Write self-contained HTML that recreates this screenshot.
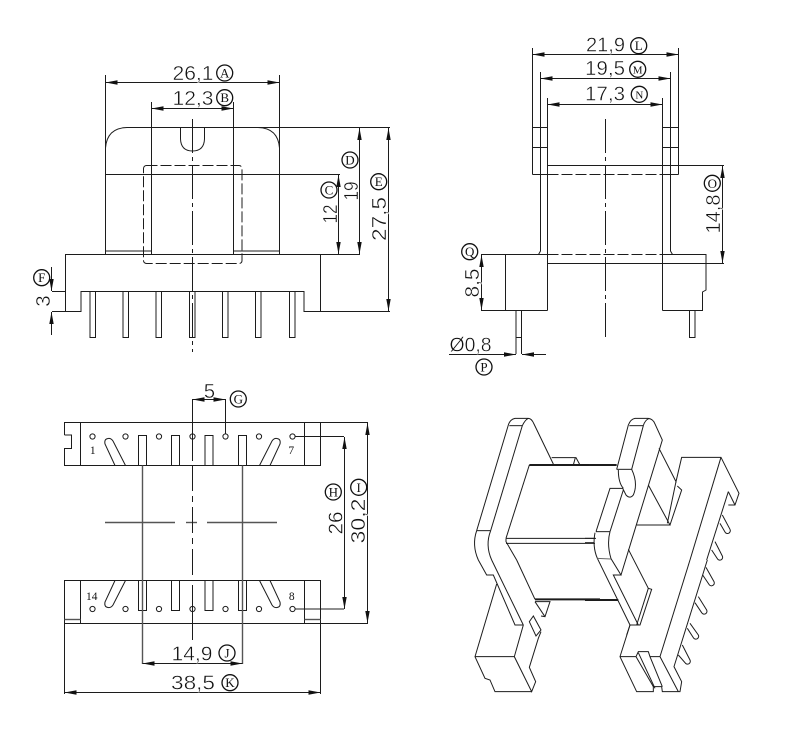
<!DOCTYPE html>
<html><head><meta charset="utf-8">
<style>
html,body{margin:0;padding:0;background:#fff;width:800px;height:738px;overflow:hidden}
svg{display:block}
.l line,.l path,.l polyline,.l rect,.l circle,.l polygon{fill:none;stroke:#1c1c1c;stroke-width:1;vector-effect:non-scaling-stroke}
.l circle.o{stroke-width:1.3;stroke:#111}
.ar{marker-start:url(#a);marker-end:url(#a)}
.ae{marker-end:url(#a)}
.t{font-family:"Liberation Sans",sans-serif;font-size:20.5px;fill:#111;stroke:#fff;stroke-width:.45;text-anchor:middle}
.c{font-family:"Liberation Serif",serif;font-size:13px;fill:#111;text-anchor:middle}
.n{font-family:"Liberation Serif",serif;font-size:11.5px;fill:#111;text-anchor:middle}
.l .d{stroke-dasharray:11 3}
.l .dc{stroke-dasharray:34 4 4 4}
.l .g{stroke:#555;stroke-width:1.4}
</style></head><body>
<svg width="800" height="738" viewBox="0 0 800 738" xmlns="http://www.w3.org/2000/svg">
<defs>
<marker id="a" markerUnits="userSpaceOnUse" markerWidth="13" markerHeight="6" refX="12" refY="3" orient="auto-start-reverse" viewBox="0 0 13 6"><path d="M12,3 L0,0.8 L0,5.2 Z" fill="#111"/></marker>
</defs>

<!-- TOP LEFT -->
<g class="l">
<path d="M105.5,148 Q107,128 127,127.5 L390,127.5"/>
<path d="M258,127.5 Q278,128 279.5,148"/>
<line x1="105.5" y1="75" x2="105.5" y2="254"/>
<line x1="279.5" y1="75" x2="279.5" y2="254"/>
<line x1="151.5" y1="102" x2="151.5" y2="254"/>
<line x1="233.5" y1="102" x2="233.5" y2="254"/>
<path d="M180.5,127.5 L180.5,139 Q181,151 192.5,151 Q204,151 204.5,139 L204.5,127.5"/>
<line x1="105.5" y1="174.5" x2="340" y2="174.5"/>
<line x1="105.5" y1="251" x2="151.5" y2="251"/>
<line x1="233.5" y1="251" x2="279.5" y2="251"/>
<path d="M360,254.5 L65.5,254.5 L65.5,311.5 L81,311.5 L81,291.5 L304,291.5 L304,311.5 L320.5,311.5 L320.5,254.5"/>
<line x1="320.5" y1="311.5" x2="390" y2="311.5"/>
<line x1="52" y1="291.5" x2="66" y2="291.5"/>
<line x1="52" y1="311.5" x2="66" y2="311.5"/>
<rect x="90" y="291.5" width="5.5" height="46"/>
<rect x="123" y="291.5" width="5.5" height="46"/>
<rect x="156" y="291.5" width="5.5" height="46"/>
<rect x="189.5" y="291.5" width="5.5" height="46"/>
<rect x="222.5" y="291.5" width="5.5" height="46"/>
<rect x="255.5" y="291.5" width="5.5" height="46"/>
<rect x="289.5" y="291.5" width="5.5" height="46"/>
<line class="dc" x1="192.5" y1="119" x2="192.5" y2="352"/>
<rect class="d" x="143.5" y="165.5" width="98.5" height="98" rx="3"/>
<line class="ar" x1="105.5" y1="82.5" x2="279.5" y2="82.5"/>
<line class="ar" x1="151.5" y1="108.5" x2="233.5" y2="108.5"/>
<line class="ar" x1="338.5" y1="175" x2="338.5" y2="254"/>
<line class="ar" x1="359.5" y1="128" x2="359.5" y2="254"/>
<line class="ar" x1="388.5" y1="128" x2="388.5" y2="311"/>
<line class="ae" x1="51.5" y1="267" x2="51.5" y2="291"/>
<line class="ae" x1="51.5" y1="335" x2="51.5" y2="312"/>
<circle class="o" cx="224.7" cy="73" r="8"/><circle class="o" cx="224.7" cy="97.7" r="8"/>
<circle class="o" cx="329" cy="190" r="8"/><circle class="o" cx="350" cy="160" r="8"/>
<circle class="o" cx="378.7" cy="181.7" r="8"/><circle class="o" cx="41.7" cy="277.7" r="8"/>
</g>
<text class="t" x="193" y="80" textLength="41" lengthAdjust="spacingAndGlyphs">26,1</text>
<text class="t" x="193" y="105" textLength="41" lengthAdjust="spacingAndGlyphs">12,3</text>
<text class="t" transform="translate(337,214) rotate(-90)" textLength="19" lengthAdjust="spacingAndGlyphs">12</text>
<text class="t" transform="translate(358,191) rotate(-90)" textLength="19" lengthAdjust="spacingAndGlyphs">19</text>
<text class="t" transform="translate(386,219) rotate(-90)" textLength="44" lengthAdjust="spacingAndGlyphs">27,5</text>
<text class="t" transform="translate(50,301) rotate(-90)">3</text>
<text class="c" x="224.7" y="77.5">A</text><text class="c" x="224.7" y="102.2">B</text>
<text class="c" x="329" y="194.5">C</text><text class="c" x="350" y="164.5">D</text>
<text class="c" x="378.7" y="186.2">E</text><text class="c" x="41.7" y="282.2">F</text>

<!-- TOP RIGHT -->
<g class="l">
<line x1="532.5" y1="48" x2="532.5" y2="174.5"/>
<line x1="678.5" y1="48" x2="678.5" y2="174.5"/>
<path d="M540.5,72 L540.5,251 L538.5,254.5"/>
<path d="M670.5,72 L670.5,251 L672.5,254.5"/>
<line x1="547.5" y1="98" x2="547.5" y2="310.5"/>
<line x1="662.5" y1="98" x2="662.5" y2="310.5"/>
<line x1="532.5" y1="127.5" x2="547.5" y2="127.5"/>
<line x1="662.5" y1="127.5" x2="678.5" y2="127.5"/>
<line x1="532.5" y1="147.5" x2="547.5" y2="147.5"/>
<line x1="662.5" y1="147.5" x2="678.5" y2="147.5"/>
<line x1="547.5" y1="165.5" x2="724" y2="165.5"/>
<line x1="532.5" y1="174.5" x2="547.5" y2="174.5"/>
<line x1="662.5" y1="174.5" x2="678.5" y2="174.5"/>
<line class="d" x1="547.5" y1="174.5" x2="662.5" y2="174.5"/>
<line class="d" x1="547.5" y1="254.5" x2="662.5" y2="254.5"/>
<line x1="481" y1="254.5" x2="547.5" y2="254.5"/>
<line x1="481" y1="310.5" x2="547.5" y2="310.5"/>
<line x1="505.5" y1="254.5" x2="505.5" y2="310.5"/>
<line x1="547.5" y1="263.5" x2="724" y2="263.5"/>
<path d="M662.5,254.5 L706,254.5 L706,290 L702.5,292 L702.5,310.5 L662.5,310.5"/>
<rect x="516" y="310.5" width="5.5" height="27"/>
<rect x="689.5" y="310.5" width="5.5" height="27"/>
<line x1="516" y1="337" x2="516" y2="354"/>
<line x1="521.5" y1="337" x2="521.5" y2="354"/>
<line class="dc" x1="605.5" y1="119" x2="605.5" y2="340"/>
<line class="ar" x1="532.5" y1="54.5" x2="678.5" y2="54.5"/>
<line class="ar" x1="540.5" y1="78.5" x2="670.5" y2="78.5"/>
<line class="ar" x1="547.5" y1="104.5" x2="662.5" y2="104.5"/>
<line class="ar" x1="722.5" y1="166" x2="722.5" y2="263"/>
<line class="ar" x1="481.5" y1="255" x2="481.5" y2="310"/>
<line class="ae" x1="449" y1="354.5" x2="516" y2="354.5"/>
<line class="ae" x1="546" y1="354.5" x2="522" y2="354.5"/>
<circle class="o" cx="638.7" cy="45.7" r="8"/><circle class="o" cx="637.7" cy="69.3" r="8"/>
<circle class="o" cx="639.3" cy="94.3" r="8"/><circle class="o" cx="712.3" cy="183.3" r="8"/>
<circle class="o" cx="469.7" cy="251.7" r="8"/><circle class="o" cx="484" cy="367" r="8"/>
</g>
<text class="t" x="605.5" y="51.5" textLength="39" lengthAdjust="spacingAndGlyphs">21,9</text>
<text class="t" x="605" y="75" textLength="40" lengthAdjust="spacingAndGlyphs">19,5</text>
<text class="t" x="605" y="100.5" textLength="40" lengthAdjust="spacingAndGlyphs">17,3</text>
<text class="t" transform="translate(720,214) rotate(-90)" textLength="39" lengthAdjust="spacingAndGlyphs">14,8</text>
<text class="t" transform="translate(479,283) rotate(-90)" textLength="29" lengthAdjust="spacingAndGlyphs">8,5</text>
<text class="t" x="470.5" y="351.5" textLength="42" lengthAdjust="spacingAndGlyphs">Ø0,8</text>
<text class="c" x="638.7" y="50.2">L</text><text class="c" x="637.7" y="73.3" style="font-size:11px">M</text>
<text class="c" x="639.3" y="98.3" style="font-size:11px">N</text><text class="c" x="712.3" y="187.8">O</text>
<text class="c" x="469.7" y="256.2">Q</text><text class="c" x="484" y="371.5">P</text>

<!-- BOTTOM LEFT -->
<g class="l">
<path d="M64.5,435 L64.5,422.5 L368,422.5"/>
<path d="M64.5,435 L71.5,435 L71.5,448.5 L64.5,448.5 L64.5,465.5 L320.5,465.5 L320.5,422.5"/>
<line x1="80.5" y1="422.5" x2="80.5" y2="465.5"/>
<line x1="304.5" y1="422.5" x2="304.5" y2="465.5"/>
<rect x="64.5" y="580.5" width="256" height="43"/>
<line x1="320" y1="623.5" x2="368" y2="623.5"/>
<line x1="80.5" y1="580.5" x2="80.5" y2="623"/>
<line x1="304.5" y1="580.5" x2="304.5" y2="623"/>
<line x1="64.5" y1="619.5" x2="80.5" y2="619.5" class="g"/>
<line x1="304.5" y1="619.5" x2="320.5" y2="619.5" class="g"/>
<circle cx="92.5" cy="436.5" r="2.6"/><circle cx="125.5" cy="436.5" r="2.6"/><circle cx="159" cy="436.5" r="2.6"/><circle cx="192.5" cy="436.5" r="2.6"/><circle cx="225.5" cy="436.5" r="2.6"/><circle cx="259" cy="436.5" r="2.6"/><circle cx="292.5" cy="436.5" r="2.6"/>
<circle cx="92.5" cy="609" r="2.6"/><circle cx="125.5" cy="609" r="2.6"/><circle cx="159" cy="609" r="2.6"/><circle cx="192.5" cy="609" r="2.6"/><circle cx="225.5" cy="609" r="2.6"/><circle cx="259" cy="609" r="2.6"/><circle cx="292.5" cy="609" r="2.6"/>
<rect x="138.5" y="435.5" width="8" height="30"/><rect x="171.5" y="435.5" width="8" height="30"/><rect x="205" y="435.5" width="8" height="30"/><rect x="238.5" y="435.5" width="8" height="30"/>
<rect x="138.5" y="580.5" width="8" height="30"/><rect x="171.5" y="580.5" width="8" height="30"/><rect x="205" y="580.5" width="8" height="30"/><rect x="238.5" y="580.5" width="8" height="30"/>
<path d="M115,465.5 L105,444 Q104,439 108,438.5 Q111,438 113,441 L125.5,465.5"/>
<path d="M270,465.5 L280,444 Q281,439 277,438.5 Q274,438 272,441 L259.5,465.5"/>
<path d="M115,580.5 L105,602 Q104,607 108,607.5 Q111,608 113,605 L125.5,580.5"/>
<path d="M270,580.5 L280,602 Q281,607 277,607.5 Q274,608 272,605 L259.5,580.5"/>
<line class="g" x1="142.5" y1="465.5" x2="142.5" y2="664"/>
<line class="g" x1="242.5" y1="465.5" x2="242.5" y2="664"/>
<line class="g" x1="105" y1="522.5" x2="175" y2="522.5"/>
<line class="g" x1="186" y1="522.5" x2="197" y2="522.5"/>
<line class="g" x1="207" y1="522.5" x2="277" y2="522.5"/>
<line x1="192.5" y1="399" x2="192.5" y2="461"/>
<line class="d" style="stroke-dasharray:26 5 6 5" x1="192.5" y1="465" x2="192.5" y2="580"/>
<line x1="192.5" y1="585" x2="192.5" y2="640"/>
<line x1="225.5" y1="399" x2="225.5" y2="434"/>
<line x1="295" y1="436.5" x2="344" y2="436.5"/>
<line x1="295" y1="609" x2="344" y2="609"/>
<line x1="64.5" y1="623" x2="64.5" y2="694"/>
<line x1="320.5" y1="623" x2="320.5" y2="694"/>
<line class="ar" x1="192.5" y1="399.5" x2="225.5" y2="399.5"/>
<line class="ar" x1="344.5" y1="437" x2="344.5" y2="609"/>
<line class="ar" x1="367.5" y1="423" x2="367.5" y2="623"/>
<line class="ar" x1="142.5" y1="663.5" x2="242.5" y2="663.5"/>
<line class="ar" x1="64.5" y1="692.5" x2="320.5" y2="692.5"/>
<circle class="o" cx="238.3" cy="399" r="8"/><circle class="o" cx="333.3" cy="492" r="8"/><circle class="o" cx="358.7" cy="487.3" r="8"/>
<circle class="o" cx="227" cy="653" r="8"/><circle class="o" cx="230" cy="682.7" r="8"/>
</g>
<text class="t" x="209.5" y="398">5</text>
<text class="t" transform="translate(342.5,523) rotate(-90)" textLength="23" lengthAdjust="spacingAndGlyphs">26</text>
<text class="t" transform="translate(365,521) rotate(-90)" textLength="45" lengthAdjust="spacingAndGlyphs">30,2</text>
<text class="t" x="192" y="660.5" textLength="41" lengthAdjust="spacingAndGlyphs">14,9</text>
<text class="t" x="193" y="689.5" textLength="44" lengthAdjust="spacingAndGlyphs">38,5</text>
<text class="c" x="238.3" y="403.5">G</text><text class="c" x="333.3" y="496.5">H</text><text class="c" x="358.7" y="491.8">I</text>
<text class="c" x="227" y="657.5">J</text><text class="c" x="230" y="687.2">K</text>
<text class="n" x="92.7" y="454">1</text><text class="n" x="291.3" y="454">7</text>
<text class="n" x="91.7" y="600">14</text><text class="n" x="291.7" y="600">8</text>

<!-- 3D VIEW -->
<g class="l" transform="translate(470,410) scale(0.3333)">
<path d="M20,362 L115,45 Q120,28 135,25 L175,25 Q185,25 192,42 L250,162"/>
<line x1="118" y1="47" x2="157" y2="47"/>
<path d="M157,47 Q165,30 175,25"/>
<line x1="157" y1="47" x2="62" y2="362"/>
<line x1="20" y1="362" x2="62" y2="362"/>
<path d="M20,362 Q5,405 25,450"/>
<path d="M62,362 Q45,405 65,450"/>
<line x1="178" y1="165" x2="360" y2="165" style="stroke-width:2"/>
<line x1="178" y1="165" x2="108" y2="385"/>
<line x1="108" y1="385" x2="378" y2="385"/>
<line x1="108" y1="400" x2="375" y2="400"/>
<path d="M108,385 L108,395 L140,450"/>
<path d="M245,143 L318,143 L330,165"/>
<line x1="316" y1="143" x2="310" y2="165"/>
</g>
<g class="l" transform="translate(590,410) scale(0.3333)">
<line x1="0" y1="165" x2="80" y2="165" style="stroke-width:2"/>
<path d="M80,178 L115,45 Q122,27 135,25 L175,25 Q190,27 195,42 L217,90 L93,495"/>
<line x1="118" y1="47" x2="160" y2="47"/>
<path d="M160,47 Q165,30 178,25"/>
<line x1="160" y1="47" x2="125" y2="178"/>
<line x1="80" y1="178" x2="125" y2="178"/>
<path d="M85,180 Q85,218 100,235"/>
<path d="M125,178 Q145,220 130,255 Q120,268 108,255 L98,235"/>
<path d="M98,235 L60,235 L18,365"/>
<line x1="100" y1="240" x2="60" y2="365"/>
<line x1="18" y1="365" x2="60" y2="365"/>
<path d="M207,115 L258,215 L275,142 L393,142 L447,250 L435,285 L415,285"/>
<line x1="258" y1="215" x2="232" y2="340"/>
<path d="M175,225 L240,345 L140,345"/>
<path d="M262,228 L275,240 L240,345"/>
<path d="M415,245 L435,285"/>
<line x1="415" y1="245" x2="350" y2="450"/>
<line x1="393" y1="142" x2="300" y2="450"/>
<path d="M397,315 L420,358 A8.5,8.5 0 0 1 405,366 L390,340"/>
<path d="M375,395 L397,438 A8.5,8.5 0 0 1 382,446 L365,420"/>
</g>
<g class="l" transform="translate(585,520) scale(0.3333)">
<line x1="0" y1="55" x2="30" y2="55"/>
<line x1="0" y1="68" x2="28" y2="68"/>
<path d="M30,38 Q22,80 37,115 L135,315"/>
<path d="M75,35 Q65,72 78,116 L108,165 L85,165 L160,315"/>
<line x1="37" y1="115" x2="78" y2="117" style="stroke:#666"/>
<path d="M130,88 L190,205 L200,208 L165,315 L135,315 L125,345"/>
<line x1="190" y1="205" x2="155" y2="315"/>
<line x1="0" y1="240" x2="100" y2="240" style="stroke-width:2"/>
</g>
<g class="l" transform="translate(470,560) scale(0.3333)">
<path d="M25,0 L50,45 L70,45 L135,195 L160,195"/>
<line x1="65" y1="0" x2="160" y2="195"/>
<path d="M140,0 L195,118"/>
<line x1="195" y1="118" x2="390" y2="118" style="stroke-width:2"/>
<path d="M80,72 L15,290 L45,355 L60,360 L75,395 L185,395"/>
<line x1="15" y1="290" x2="133" y2="290"/>
<path d="M160,195 L133,290 L185,395 L197,365 L178,322 L205,235 L213,215"/>
<path d="M190,168 L178,185 L198,228 L213,210 Z"/>
<path d="M195,125 L240,125 L225,170 L213,168"/>
<line x1="195" y1="125" x2="225" y2="170"/>
</g>
<g class="l" transform="translate(600,560) scale(0.3333)">
<path d="M90,195 L60,290 L110,395 L160,395 L160,380 L185,380 L187,395 L240,395 L245,365 L222,320 L322,0"/>
<line x1="270" y1="0" x2="180" y2="290"/>
<path d="M60,290 L108,290 L115,275 L145,275 L150,290 L180,290 L235,395"/>
<line x1="108" y1="290" x2="160" y2="380"/>
<line x1="115" y1="278" x2="165" y2="385"/>
<line x1="150" y1="290" x2="187" y2="380"/>
<path d="M318,22 L342,65 A8.5,8.5 0 0 1 327,73 L308,45"/>
<path d="M295,110 L320,150 A8.5,8.5 0 0 1 305,158 L285,128"/>
<path d="M270,190 L295,225 A8.5,8.5 0 0 1 280,233 L262,205"/>
<path d="M247,255 L270,300 A8.5,8.5 0 0 1 255,308 L235,285"/>
</g>
</svg>
</body></html>
